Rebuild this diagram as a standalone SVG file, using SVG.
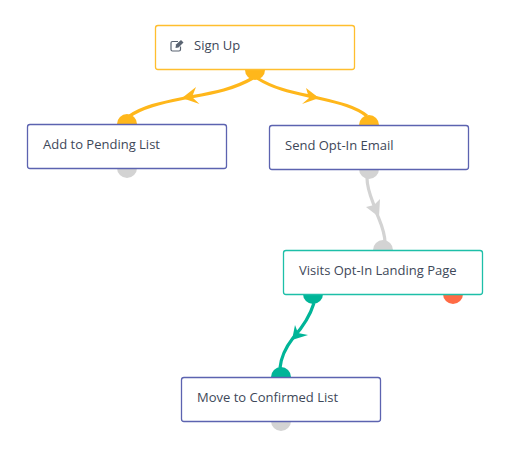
<svg xmlns="http://www.w3.org/2000/svg" width="519" height="452" viewBox="0 0 519 452">
<style>
.box{fill:#fff;stroke-width:1.3}
.pur{stroke:#5c63b0}
.yel{stroke:#ffbe2e}
.grn{stroke:#1dbfa8}
.lbl{font-family:"Open Sans","Noto Sans",sans-serif;font-size:13px;fill:#3e4859}
.e{fill:none;stroke-width:3.200}
.y{fill:#ffb71b}.g{fill:#d3d3d3}.t{fill:#00b598}.r{fill:#ff6b45}
</style>
<rect width="519" height="452" fill="#fff"/>
<g id="connectors">
<path class="e" stroke="#ffb71b" d="M253 78C232 90 212 93 185 98C160 103 142 107 128 117"/>
<polygon class="y" points="182,98 196,87 192,97 199.500,104"/>
<path class="e" stroke="#ffb71b" d="M257 78C276 90 296 93 318 98C340 103 356 107 367 116"/>
<polygon class="y" points="319,98 306,88 309,98 302,104"/>
<path class="e" stroke="#d3d3d3" d="M367 178C367 192 374 203 377 214C381 224 385 232 385 243"/>
<polygon class="g" points="379,217 366,207 374,205 380,199"/>
<path class="e" stroke="#00b598" d="M314 303C310 316 302 328 293 338C286 347 281 357 280 368"/>
<polygon class="t" points="292,340 295,325 298,333 308,335"/>
</g>
<g id="node-sign-up">
<circle class="y" cx="255" cy="70" r="10"/>
<rect class="box yel" x="155.500" y="25.500" width="199" height="44" rx="2.500"/>
<g fill="none" stroke="#5a6472" stroke-width="1.200"><path d="M180.500 46.500V49.500A1.500 1.500 0 0 1 179 51H172.500A1.500 1.500 0 0 1 171 49.500V43A1.500 1.500 0 0 1 172.500 41.500H178"/></g>
<path fill="#5a6472" d="M176 44.500L181 40L183.500 42.500L178.500 47.500L175.500 48Z"/>
<text class="lbl" x="194" y="50">Sign Up</text>
</g>
<g id="node-add-pending">
<circle class="y" cx="127" cy="124" r="10"/>
<circle class="g" cx="127" cy="168" r="10"/>
<rect class="box pur" x="27.500" y="124.500" width="199" height="44" rx="2.500"/>
<text class="lbl" x="43" y="149">Add to Pending List</text>
</g>
<g id="node-send-email">
<circle class="y" cx="369" cy="125" r="10"/>
<circle class="g" cx="369" cy="169" r="10"/>
<rect class="box pur" x="269.500" y="125.500" width="199" height="44" rx="2.500"/>
<text class="lbl" x="285" y="150">Send Opt-In Email</text>
</g>
<g id="node-visits">
<circle class="g" cx="383" cy="250" r="10"/>
<circle class="t" cx="313" cy="294" r="10"/>
<circle class="r" cx="453" cy="294" r="10"/>
<rect class="box grn" x="283.500" y="250.500" width="199" height="44" rx="2.500"/>
<text class="lbl" x="299" y="275">Visits Opt-In Landing Page</text>
</g>
<g id="node-move-confirmed">
<circle class="t" cx="281" cy="377" r="10"/>
<circle class="g" cx="281" cy="421" r="10"/>
<rect class="box pur" x="181.500" y="377.500" width="199" height="44" rx="2.500"/>
<text class="lbl" x="197" y="402">Move to Confirmed List</text>
</g>
</svg>
